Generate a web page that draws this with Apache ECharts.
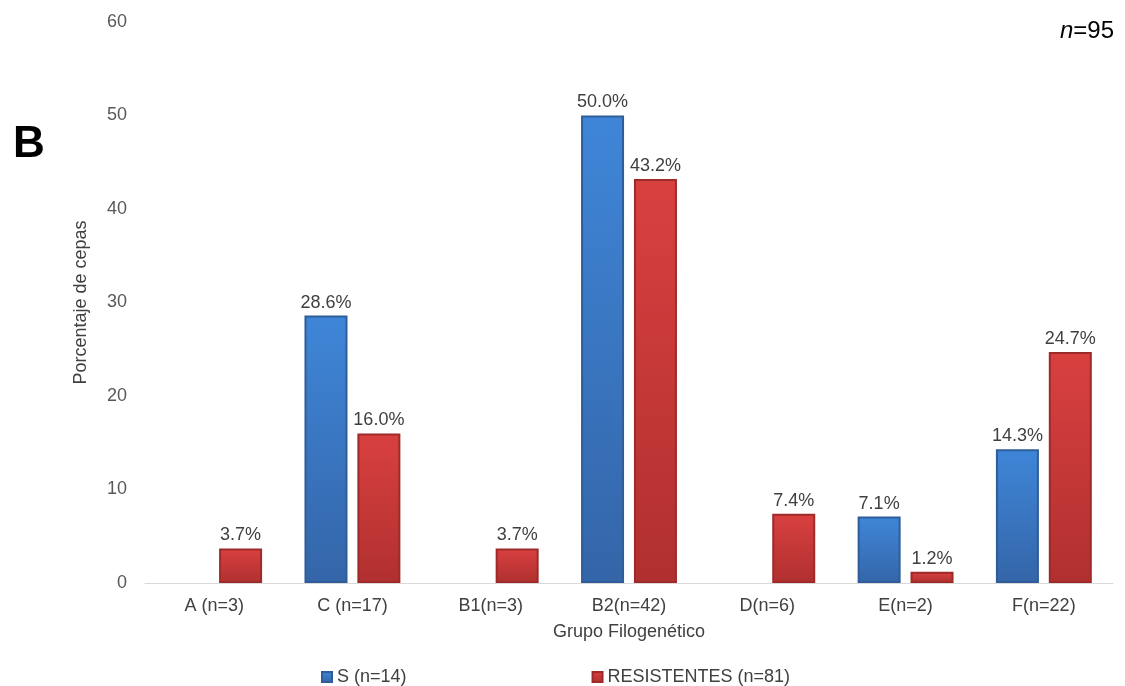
<!DOCTYPE html>
<html>
<head>
<meta charset="utf-8">
<script src="https://cdn.jsdelivr.net/npm/echarts@6/dist/echarts.min.js"></script>
<style>
  html, body { margin: 0; padding: 0; background: #fff; }
  #chart { width: 1125px; height: 686px; }
</style>
</head>
<body>
<div id="chart"></div>
<script>
// Phylogenetic groups and percentage of strains per group
const categories = ['A (n=3)', 'C (n=17)', 'B1(n=3)', 'B2(n=42)', 'D(n=6)', 'E(n=2)', 'F(n=22)'];
const sensibles = [null, 28.6, null, 50.0, null, 7.1, 14.3];
const resistentes = [3.7, 16.0, 3.7, 43.2, 7.4, 1.2, 24.7];
const seriesNames = ['S (n=14)', 'RESISTENTES (n=81)'];
const yTicks = { min: 0, max: 60, interval: 10 };

const font = '"Liberation Sans", Arial, sans-serif';
const textGrey = '#404040';
const fs = 18;

function barStyle(top, bottom, edge) {
  return {
    color: new echarts.graphic.LinearGradient(0, 0, 0, 1, [
      { offset: 0, color: top },
      { offset: 1, color: bottom }
    ]),
    borderColor: edge,
    borderWidth: 2
  };
}

const labelStyle = {
  show: true,
  position: 'top',
  distance: 4,
  color: textGrey,
  fontFamily: font,
  fontSize: fs,
  formatter: p => p.value == null ? '' : p.value.toFixed(1) + '%'
};

const chart = echarts.init(document.getElementById('chart'));
chart.setOption({
  animation: false,
  textStyle: { fontFamily: font },
  title: [
    {
      text: 'B', left: 8, top: 118,
      textStyle: { fontSize: 44, fontWeight: 'bold', color: '#000', fontFamily: font }
    },
    {
      text: '{i|n}=95', right: 6, top: 14,
      textStyle: {
        fontSize: 24, fontWeight: 'normal', color: '#000', fontFamily: font,
        rich: { i: { fontStyle: 'italic', fontSize: 24, color: '#000', fontFamily: font } }
      }
    }
  ],
  grid: { left: 145, right: 12, top: 22, bottom: 103 },
  legend: {
    data: seriesNames,
    left: 316, top: 663,
    icon: 'rect', itemWidth: 10, itemHeight: 10,
    itemGap: 185,
    textStyle: { fontSize: fs, color: textGrey, fontFamily: font }
  },
  xAxis: {
    type: 'category',
    data: categories,
    name: 'Grupo Filogenético',
    nameLocation: 'middle',
    nameGap: 40,
    nameTextStyle: { fontSize: fs, color: textGrey, fontFamily: font },
    axisLine: { lineStyle: { color: '#d9d9d9', width: 1 } },
    axisTick: { show: false },
    axisLabel: { fontSize: fs, color: textGrey, margin: 14, fontFamily: font }
  },
  yAxis: {
    type: 'value',
    min: yTicks.min, max: yTicks.max, interval: yTicks.interval,
    name: 'Porcentaje de cepas',
    nameLocation: 'middle',
    nameGap: 55,
    nameTextStyle: { fontSize: fs, color: textGrey, fontFamily: font },
    axisLine: { show: false },
    axisTick: { show: false },
    splitLine: { show: false },
    axisLabel: { fontSize: fs, color: '#595959', margin: 18, fontFamily: font }
  },
  series: [
    {
      name: seriesNames[0],
      type: 'bar',
      data: sensibles,
      barWidth: 43,
      barGap: '23%',
      itemStyle: barStyle('#3f86d8', '#3465a8', '#2f5d99'),
      label: labelStyle
    },
    {
      name: seriesNames[1],
      type: 'bar',
      data: resistentes,
      barWidth: 43,
      itemStyle: barStyle('#d94040', '#b0302f', '#9e2a2a'),
      label: labelStyle
    }
  ]
});
</script>
</body>
</html>
